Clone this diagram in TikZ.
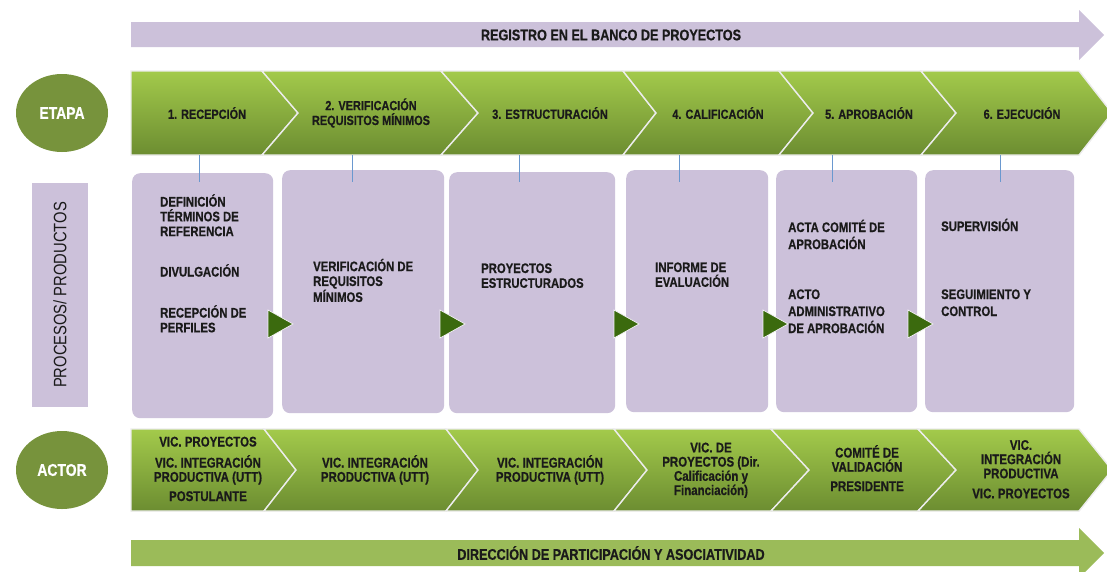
\documentclass[tikz,border=0pt]{standalone}
\usepackage{fontspec}
\setmainfont[FakeStretch=0.82,BoldFeatures={FakeBold=0.6}]{Liberation Sans}
\usetikzlibrary{shapes.geometric}
\definecolor{lav}{HTML}{CCC1DA}
\definecolor{gtop}{HTML}{A3CA4B}
\definecolor{gmid}{HTML}{8DB040}
\definecolor{gbot}{HTML}{6C8D31}
\definecolor{olive}{HTML}{77933C}
\definecolor{arrg}{HTML}{9BBB59}
\definecolor{trig}{HTML}{3B6A0E}
\definecolor{tickc}{HTML}{6A98CF}
\definecolor{ink}{HTML}{1A1A1A}
\begin{document}
\begin{tikzpicture}[x=1pt,y=-1pt,
  chev/.style={top color=gtop,middle color=gmid,bottom color=gbot,draw=white!85!gray,line width=1.4pt,line join=miter},
  lbl/.style={font=\bfseries\fontsize{13.3}{14.8}\selectfont,text=ink,align=center,inner sep=0pt},
  albl/.style={font=\bfseries\fontsize{14}{14.2}\selectfont,text=ink,align=center,inner sep=0pt,anchor=base},
  btxt/.style={font=\bfseries\fontsize{13.8}{14.8}\selectfont,text=ink,align=left,inner sep=0pt,anchor=base west},
  btxtw/.style={btxt,font=\bfseries\fontsize{13.8}{17}\selectfont},
  box/.style={fill=lav,rounded corners=8pt,anchor=north west,inner sep=0pt},
  oval/.style={ellipse,fill=olive,minimum width=92pt,minimum height=78pt,text=white,font=\bfseries\fontsize{17}{18}\selectfont},
  tri/.style={fill=trig,draw=white!80!lav,line width=0.7pt},
  tickline/.style={draw=tickc,line width=0.9pt},
  arrtxt/.style={font=\bfseries\fontsize{15.4}{17}\selectfont,text=ink,inner sep=0pt}]
\useasboundingbox (0,0) rectangle (1107,571);
\clip (0,0) rectangle (1107,571);
\fill[white] (0,0) rectangle (1107,571);

% top arrow
\fill[lav] (131,22) -- (1079,22) -- (1079,10) -- (1104,35) -- (1079,60) -- (1079,47) -- (131,47) -- cycle;
\node[arrtxt] (reg) at (611,35) {REGISTRO EN EL BANCO DE PROYECTOS};

% bottom arrow
\fill[arrg] (131,540) -- (1079,540) -- (1079,528) -- (1104,553) -- (1079,578) -- (1079,566) -- (131,566) -- cycle;
\node[arrtxt] (dir) at (611,553) {DIRECCIÓN DE PARTICIPACIÓN Y ASOCIATIVIDAD};

% ovals
\node[oval] (etapa) at (62,113) {ETAPA};
\node[oval] (actor) at (62,470) {ACTOR};

% procesos label
\node[fill=lav,minimum width=56pt,minimum height=224pt,inner sep=0pt] (proc) at (60,295) {};
\node[rotate=90,font=\fontsize{18}{20}\selectfont,text=ink,inner sep=0pt] (proct) at (proc.center) {PROCESOS/ PRODUCTOS};

% top chevrons
\path[chev] (131,71) -- (262,71) -- (298,113) -- (262,155) -- (131,155) -- cycle;
\foreach \a/\b/\c/\d in {262/298/441/478, 441/478/623/656, 623/656/779/813, 779/813/921/956, 921/956/1079/1112}
  \path[chev] (\a,71) -- (\c,71) -- (\d,113) -- (\c,155) -- (\a,155) -- (\b,113) -- cycle;
\node[lbl] (e1) at (207,113) {1. RECEPCIÓN};
\node[lbl] (e2) at (371,113) {2. VERIFICACIÓN\\REQUISITOS MÍNIMOS};
\node[lbl] (e3) at (550,113) {3. ESTRUCTURACIÓN};
\node[lbl] (e4) at (718,113) {4. CALIFICACIÓN};
\node[lbl] (e5) at (869,113) {5. APROBACIÓN};
\node[lbl] (e6) at (1022,113) {6. EJECUCIÓN};

% bottom chevrons
\path[chev] (131,429) -- (264,429) -- (296,470) -- (264,511) -- (131,511) -- cycle;
\foreach \a/\b/\c/\d in {264/296/446/478, 446/478/614/647, 614/647/771/809, 771/809/918/956, 918/956/1079/1112}
  \path[chev] (\a,429) -- (\c,429) -- (\d,470) -- (\c,511) -- (\a,511) -- (\b,470) -- cycle;
% anchored at the baseline of the last line
\node[albl] (a1) at (208,501) {VIC. PROYECTOS\\[6.8pt]VIC. INTEGRACIÓN\\PRODUCTIVA (UTT)\\[5.1pt]POSTULANTE};
\node[albl] (a2) at (375,481.7) {VIC. INTEGRACIÓN\\PRODUCTIVA (UTT)};
\node[albl] (a3) at (550,481.7) {VIC. INTEGRACIÓN\\PRODUCTIVA (UTT)};
\node[albl] (a4) at (711,495) {VIC. DE\\PROYECTOS (Dir.\\Calificación y\\Financiación)};
\node[albl] (a5) at (867,491) {COMITÉ DE\\VALIDACIÓN\\[5.1pt]PRESIDENTE};
\node[albl] (a6) at (1021,498.3) {VIC.\\INTEGRACIÓN\\PRODUCTIVA\\[5.8pt]VIC. PROYECTOS};

% boxes
\node[box,minimum width=141pt,minimum height=245pt] (b1) at (132,173) {};
\node[box,minimum width=162pt,minimum height=243pt] (b2) at (282,170) {};
\node[box,minimum width=166pt,minimum height=241pt] (b3) at (449,172) {};
\node[box,minimum width=142pt,minimum height=242pt] (b4) at (626,170) {};
\node[box,minimum width=141pt,minimum height=242pt] (b5) at (776,170) {};
\node[box,minimum width=149pt,minimum height=242pt] (b6) at (925,170) {};

% ticks
\foreach \x [count=\i] in {199,352,519,679,832,1000} {
  \coordinate (k\i) at (\x,155);
  \draw[tickline] (k\i) -- ++(0,27);
}

% box texts (anchored at the baseline of the last line)
\node[btxt] (p1a) at (160,236.1) {DEFINICIÓN\\TÉRMINOS DE\\REFERENCIA};
\node[btxt] (p1b) at (160,276.5) {DIVULGACIÓN};
\node[btxt] (p1c) at (160,332.3) {RECEPCIÓN DE\\PERFILES};
\node[btxt] (p2) at (313,301.9) {VERIFICACIÓN DE\\REQUISITOS\\MÍNIMOS};
\node[btxt] (p3) at (481,287.8) {PROYECTOS\\ESTRUCTURADOS};
\node[btxt] (p4) at (655,286.8) {INFORME DE\\EVALUACIÓN};
\node[btxtw] (p5a) at (788,249) {ACTA COMITÉ DE\\APROBACIÓN};
\node[btxtw] (p5b) at (788,333) {ACTO\\ADMINISTRATIVO\\DE APROBACIÓN};
\node[btxt] (p6a) at (941,231) {SUPERVISIÓN};
\node[btxtw] (p6b) at (941,316) {SEGUIMIENTO Y\\CONTROL};

% triangles
\foreach \x [count=\i] in {268,440,614,763,908} {
  \coordinate (t\i) at (\x,324);
  \path[tri] (t\i) ++(0,-14) -- ++(25,14) -- ++(-25,14) -- cycle;
}
\end{tikzpicture}
\end{document}
